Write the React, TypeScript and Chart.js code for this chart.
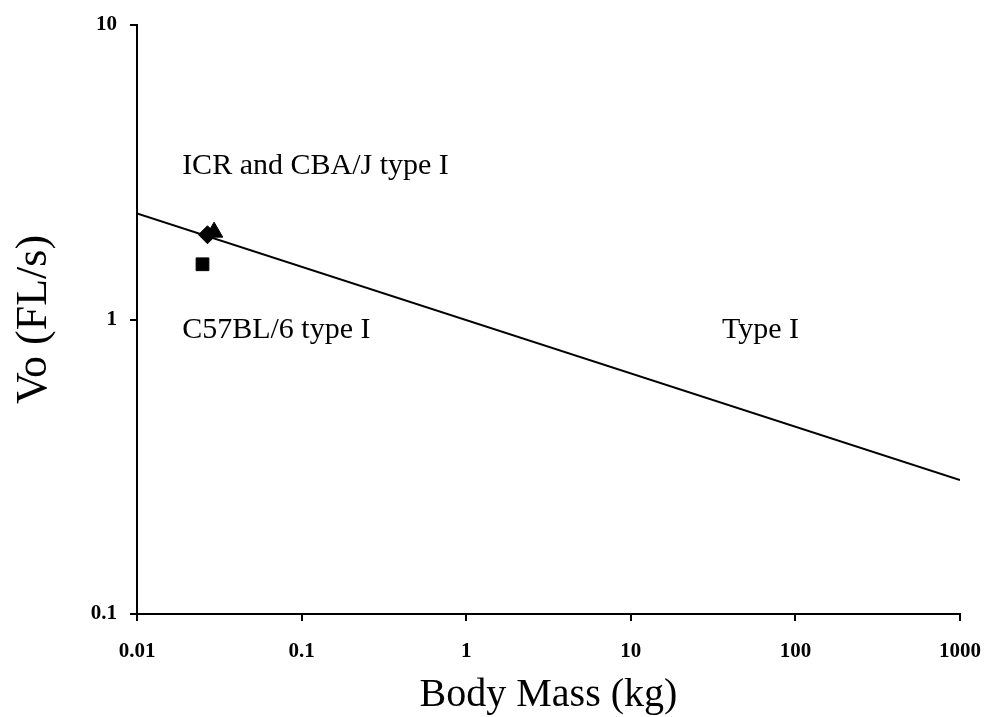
import React, { useEffect, useRef } from "react";
import { Chart, registerables } from "chart.js";

Chart.register(...registerables);

const xTicks = [0.01, 0.1, 1, 10, 100, 1000];
const yTicks = [0.1, 1, 10];

const fitLineX = [0.01, 1000];
const fitLineY = [2.29, 0.285];

const c57X = [0.025];
const c57Y = [1.54];
const icrX = [0.0268];
const icrY = [1.94];
const cbaX = [0.0294];
const cbaY = [1.98];

const labelTexts = ["ICR and CBA/J type I", "C57BL/6 type I", "Type I"];
const labelX = [0.0188, 0.0188, 35.8];
const labelY = [3.12, 0.865, 0.865];

const FONT = "'Liberation Serif', 'Times New Roman', serif";

const textPlugin = {
  id: "textLabels",
  afterDatasetsDraw(chart: any) {
    const { ctx, scales } = chart;
    ctx.save();
    ctx.fillStyle = "#000";
    ctx.font = `30px ${FONT}`;
    ctx.textAlign = "left";
    ctx.textBaseline = "alphabetic";
    labelTexts.forEach((t, i) => {
      ctx.fillText(t, scales.x.getPixelForValue(labelX[i]), scales.y.getPixelForValue(labelY[i]));
    });
    ctx.restore();
  },
};

function pts(xs: number[], ys: number[]) {
  return xs.map((x, i) => ({ x, y: ys[i] }));
}

export default function App() {
  const ref = useRef<HTMLCanvasElement>(null);
  useEffect(() => {
    if (!ref.current) return;
    const chart = new Chart(ref.current, {
      type: "scatter",
      data: {
        datasets: [
          {
            label: "Type I",
            data: pts(fitLineX, fitLineY),
            showLine: true,
            borderColor: "#000",
            borderWidth: 2,
            pointRadius: 0,
            fill: false,
          },
          {
            label: "C57BL/6 type I",
            data: pts(c57X, c57Y),
            pointStyle: "rect",
            pointRadius: 9,
            backgroundColor: "#000",
            borderColor: "#000",
          },
          {
            label: "ICR type I",
            data: pts(icrX, icrY),
            pointStyle: "rectRot",
            pointRadius: 9,
            backgroundColor: "#000",
            borderColor: "#000",
          },
          {
            label: "CBA/J type I",
            data: pts(cbaX, cbaY),
            pointStyle: "triangle",
            pointRadius: 10,
            backgroundColor: "#000",
            borderColor: "#000",
          },
        ],
      },
      options: {
        animation: false,
        responsive: false,
        layout: { padding: { top: 25, right: 24, left: 0, bottom: 0 } },
        plugins: { legend: { display: false }, tooltip: { enabled: false } },
        scales: {
          x: {
            type: "logarithmic",
            min: 0.01,
            max: 1000,
            afterBuildTicks: (s: any) => {
              s.ticks = xTicks.map((v) => ({ value: v }));
            },
            afterFit: (s: any) => {
              s.height = 103;
              s.paddingLeft = 0;
              s.paddingRight = 0;
            },
            ticks: {
              callback: (v: any) => String(v),
              color: "#000",
              font: { family: FONT, size: 21, weight: "bold" },
              padding: 18,
              maxRotation: 0,
              autoSkip: false,
            },
            grid: { drawOnChartArea: false, drawTicks: true, tickLength: 7, color: "#000", lineWidth: 2 },
            border: { display: true, color: "#000", width: 2 },
            title: {
              display: true,
              text: "Body Mass (kg)",
              color: "#000",
              font: { family: FONT, size: 40 },
              padding: { top: 0, bottom: -2 },
            },
          },
          y: {
            type: "logarithmic",
            min: 0.1,
            max: 10,
            afterBuildTicks: (s: any) => {
              s.ticks = yTicks.map((v) => ({ value: v }));
            },
            afterFit: (s: any) => {
              s.width = 137;
              s.paddingTop = 0;
              s.paddingBottom = 0;
            },
            ticks: {
              callback: (v: any) => String(v),
              color: "#000",
              font: { family: FONT, size: 21, weight: "bold" },
              padding: 13,
              autoSkip: false,
            },
            grid: { drawOnChartArea: false, drawTicks: true, tickLength: 7, color: "#000", lineWidth: 2 },
            border: { display: true, color: "#000", width: 2 },
            title: {
              display: true,
              text: "Vo (FL/s)",
              color: "#000",
              font: { family: FONT, size: 44 },
              padding: { top: 8, bottom: 0 },
            },
          },
        },
      },
      plugins: [textPlugin],
    } as any);
    return () => chart.destroy();
  }, []);
  return (
    <div style={{ position: "fixed", left: 0, top: 0, width: 984, height: 717, background: "#fff" }}>
      <canvas ref={ref} width={984} height={717} style={{ width: 984, height: 717 }} />
    </div>
  );
}
